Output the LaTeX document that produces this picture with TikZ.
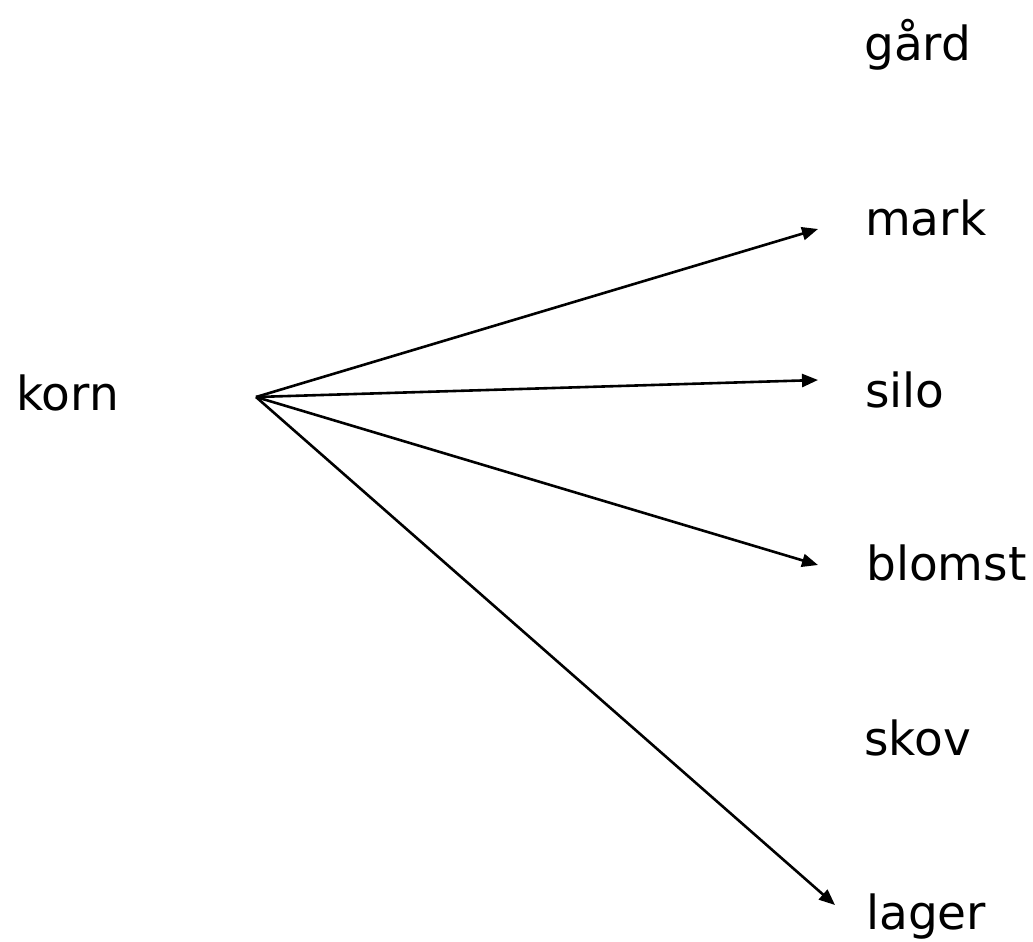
\documentclass[tikz,border=0pt]{standalone}
\usepackage{fontspec}
\setmainfont{DejaVu Sans}
\usetikzlibrary{arrows.meta}
\begin{document}
\begin{tikzpicture}[x=1pt,y=-1pt,
  word/.style={anchor=base west,inner sep=0pt,font=\fontsize{47}{56}\selectfont},
  link/.style={line width=2.6pt,-{Triangle[length=16pt,width=13pt]}}]
\useasboundingbox (0,0) rectangle (1033,942);
\node[word] (korn) at (16,410) {korn};
\node[word] (gard) at (864,60) {gård};
\node[word] (mark) at (865,235) {mark};
\node[word] (silo) at (865,407) {silo};
\node[word] (blomst) at (866,580) {blomst};
\node[word] (skov) at (864,755) {skov};
\node[word] (lager) at (866,929) {lager};
\coordinate (hub) at (256,397);
\coordinate (tmark) at (818,229);
\coordinate (tsilo) at (818,380);
\coordinate (tblomst) at (818,565);
\coordinate (tlager) at (835,905);
\draw[link] (hub) -- (tmark);
\draw[link] (hub) -- (tsilo);
\draw[link] (hub) -- (tblomst);
\draw[link] (hub) -- (tlager);
\end{tikzpicture}
\end{document}
